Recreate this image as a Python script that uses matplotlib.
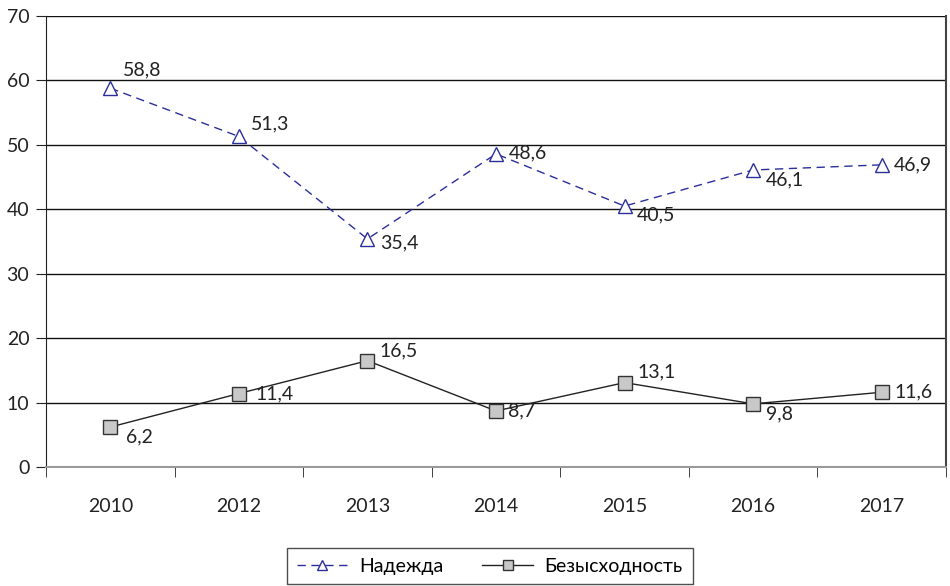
import matplotlib
matplotlib.use("Agg")
import matplotlib.pyplot as plt
import numpy as np

plt.rcParams['font.family'] = ['Lato', 'DejaVu Sans']

years = ['2010', '2012', '2013', '2014', '2015', '2016', '2017']
nadezhda = [58.8, 51.3, 35.4, 48.6, 40.5, 46.1, 46.9]
bezysh = [6.2, 11.4, 16.5, 8.7, 13.1, 9.8, 11.6]
nadezhda_label = 'Надежда'
bezysh_label = 'Безысходность'

fig = plt.figure(figsize=(9.5, 5.86), dpi=100)
ax = fig.add_axes([46/950, 1-467/586, 900/950, (467-16)/586])

x = np.arange(len(years))
ax.plot(x, nadezhda, color='#2b2f9a', lw=1, ls=(0, (6, 4)), marker='^', ms=10,
        mfc='white', mec='#2b2f9a', mew=1, label=nadezhda_label, zorder=3)
ax.plot(x, bezysh, color='#222222', lw=1, marker='s', ms=10,
        mfc='#c8c8c8', mec='#333333', mew=1, label=bezysh_label, zorder=3)

# label offsets (points)
n_off = [(9, 13), (9, 9), (9, -3), (9, 1), (9, -6), (9, -7), (9, 0)]
b_off = [(11, -7), (12, 0), (9, 7), (9, 0), (9, 8), (9, -7), (9, 0)]
for i, v in enumerate(nadezhda):
    ax.annotate(f"{v:.1f}".replace('.', ','), (x[i], v), xytext=n_off[i],
                textcoords='offset points', fontsize=14, color='#222222',
                va='center', ha='left')
for i, v in enumerate(bezysh):
    ax.annotate(f"{v:.1f}".replace('.', ','), (x[i], v), xytext=b_off[i],
                textcoords='offset points', fontsize=14, color='#222222',
                va='center', ha='left')

ax.set_xlim(-0.5, len(years) - 0.5)
ax.set_ylim(0, 70)
ax.set_yticks(range(0, 71, 10))
ax.yaxis.grid(True, color='#111111', lw=1)
ax.set_axisbelow(True)
ax.set_xticks(x)
ax.set_xticklabels(years)
ax.set_xticks(np.arange(-0.5, len(years), 1), minor=True)
ax.tick_params(axis='x', which='major', length=0, pad=22, labelsize=14, labelcolor='#222222')
ax.tick_params(axis='x', which='minor', length=7, color='#222222')
ax.tick_params(axis='y', length=7, labelsize=14, labelcolor='#222222', color='#222222', pad=5)

ax.spines['left'].set_color('#222222')
ax.spines['right'].set_color('#444444')
ax.spines['right'].set_linewidth(1.5)
ax.spines['bottom'].set_color('#999999')
ax.spines['bottom'].set_linewidth(1.5)
ax.spines['top'].set_visible(False)

leg = fig.legend(loc='upper center', bbox_to_anchor=(490/950, 1-548/586), ncol=2,
                 frameon=True, fancybox=False, edgecolor='#222222', fontsize=14,
                 handlelength=2.6, handletextpad=0.6, columnspacing=2.0,
                 borderpad=0.5, borderaxespad=0, markerscale=0.75)
leg.get_frame().set_linewidth(1)

fig.savefig('out.png', dpi=100)
